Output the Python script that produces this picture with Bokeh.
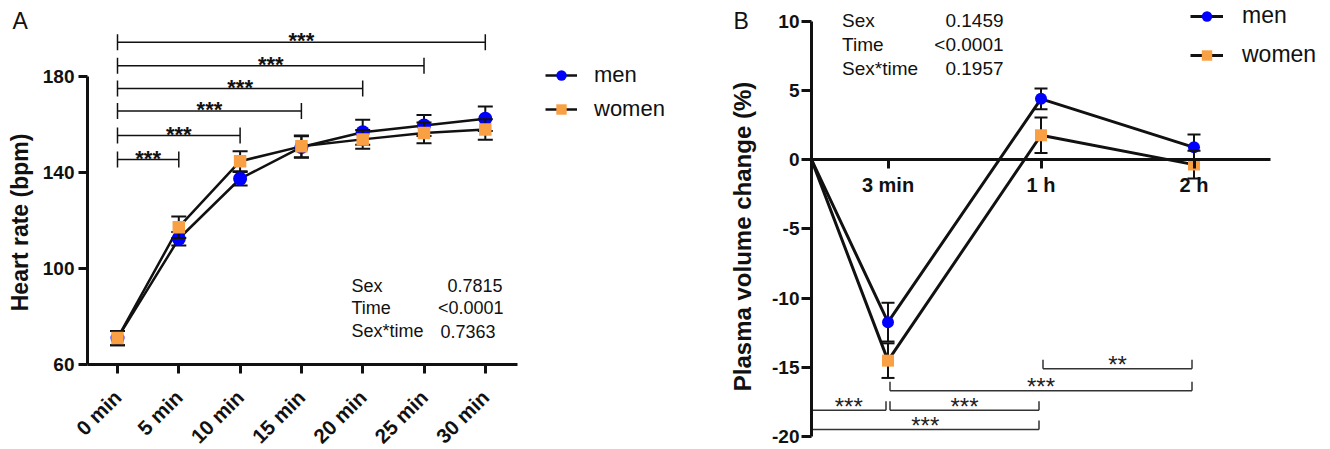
import math
from bokeh.plotting import figure
from bokeh.models import Range1d, FixedTicker, Legend, LegendItem, Label
from bokeh.layouts import row
from bokeh.embed import file_html
from bokeh.resources import INLINE
from bokeh.core.properties import value

# ---------------- data ----------------
# Panel A: heart rate
times_A = ["0 min", "5 min", "10 min", "15 min", "20 min", "25 min", "30 min"]
hr_men = [71.0, 112.4, 137.4, 150.6, 156.8, 159.6, 162.4]
hr_men_sem = [3.0, 2.8, 2.8, 4.5, 5.2, 4.4, 5.1]
hr_women = [71.0, 117.2, 144.7, 150.9, 153.8, 156.5, 157.9]
hr_women_sem = [3.0, 4.5, 4.2, 4.5, 3.9, 4.3, 4.3]
hr_ticks = [60, 100, 140, 180]
# significance brackets vs 0 min: end time index, level (bpm), label
brA_end = [1, 2, 3, 4, 5, 6]
brA_level = [145.4, 155.4, 165.6, 175.0, 184.5, 194.3]
brA_label = ["***", "***", "***", "***", "***", "***"]
statsA_name = ["Sex", "Time", "Sex*time"]
statsA_p = ["0.7815", "<0.0001", "0.7363"]

# Panel B: plasma volume change
times_B = ["3 min", "1 h", "2 h"]
pv_start = 0.0
pv_men = [-11.74, 4.39, 0.89]
pv_men_sem = [1.4, 0.75, 0.92]
pv_women = [-14.52, 1.76, -0.36]
pv_women_sem = [1.25, 1.28, 1.0]
pv_ticks = [-20, -15, -10, -5, 0, 5, 10]
# brackets: from point, to point (-1 = start), level, label
brB_from = [-1, 0, -1, 0, 1]
brB_to = [0, 1, 1, 2, 2]
brB_level = [-18.1, -18.1, -19.5, -16.7, -15.1]
brB_label = ["***", "***", "***", "***", "**"]
statsB_name = ["Sex", "Time", "Sex*time"]
statsB_p = ["0.1459", "<0.0001", "0.1957"]

FONT = "Liberation Sans"
BLUE = "#0000FF"
ORANGE = "#F8A043"
INK = "#111111"


def make_fig(w, h, xr, yr):
    p = figure(width=w, height=h, x_range=Range1d(*xr), y_range=Range1d(*yr),
               output_backend="svg", toolbar_location=None,
               min_border_left=0, min_border_right=0, min_border_top=0, min_border_bottom=0)
    p.outline_line_color = None
    p.xgrid.visible = False
    p.ygrid.visible = False
    p.background_fill_color = "white"
    p.border_fill_color = "white"
    for ax in (p.xaxis[0], p.yaxis[0]):
        ax.axis_line_width = 3
        ax.axis_line_color = INK
        ax.major_tick_line_width = 3
        ax.major_tick_line_color = INK
        ax.minor_tick_line_color = None
        ax.major_tick_in = 0
        ax.major_label_text_font = FONT
        ax.major_label_text_font_style = "bold"
        ax.major_label_text_color = INK
    return p


def errbars(p, xs, ys, sems, cap):
    lo = [y - s for y, s in zip(ys, sems)]
    hi = [y + s for y, s in zip(ys, sems)]
    p.segment(x0=xs, y0=lo, x1=xs, y1=hi, line_color=INK, line_width=2)
    p.scatter(x=xs + xs, y=lo + hi, marker="dash", size=cap, line_color=INK, line_width=2)


# ---------------- Panel A ----------------
pxA, pyA = 61.3, 2.4        # pixels per unit
WA, H = 700, 449
xA0 = -117 / pxA
yA1 = 180 + 76 / pyA
yA0 = 60 - (H - 364) / pyA
pA = make_fig(WA, H, (xA0, xA0 + WA / pxA), (yA0, yA1))
xA = list(range(len(times_A)))
ax_left = -30 / pxA
pA.xaxis.fixed_location = 60
pA.xaxis.ticker = FixedTicker(ticks=xA)
pA.xaxis.major_label_overrides = {i: t for i, t in zip(xA, times_A)}
pA.xaxis.major_label_orientation = math.pi / 4
pA.xaxis.major_label_text_font_size = "20.5px"
pA.xaxis.major_tick_out = 9
pA.xaxis.major_label_standoff = 20
pA.xaxis.bounds = (ax_left, 400 / pxA)
pA.yaxis.fixed_location = ax_left
pA.yaxis.ticker = FixedTicker(ticks=hr_ticks)
pA.yaxis.major_label_overrides = {t: str(t) for t in hr_ticks}
pA.yaxis.major_label_text_font_size = "19px"
pA.yaxis.major_tick_out = 9
pA.yaxis.major_label_standoff = 4
pA.yaxis.bounds = (60, 180)

lmA = pA.line(xA, hr_men, line_color=INK, line_width=2.5)
lwA = pA.line(xA, hr_women, line_color=INK, line_width=2.5)
errbars(pA, xA, hr_men, hr_men_sem, 15)
smA = pA.scatter(xA, hr_men, marker="circle", size=14, fill_color=BLUE, line_color=None)
errbars(pA, xA, hr_women, hr_women_sem, 15)
swA = pA.scatter(xA, hr_women, marker="square", size=12.5, fill_color=ORANGE, line_color=None)

# brackets A
tickA = 8 / pyA
n = len(brA_end)
pA.segment(x0=[0] * n, y0=brA_level, x1=brA_end, y1=brA_level, line_color=INK, line_width=1.5)
pA.segment(x0=[0] * n, y0=[l - tickA for l in brA_level], x1=[0] * n,
           y1=[l + tickA for l in brA_level], line_color=INK, line_width=1.5)
pA.segment(x0=brA_end, y0=[l - tickA for l in brA_level], x1=brA_end,
           y1=[l + tickA for l in brA_level], line_color=INK, line_width=1.5)
pA.text(x=[e / 2 for e in brA_end], y=[l + 0.6 for l in brA_level], text=brA_label,
        text_font=value(FONT), text_font_size="22px", text_font_style="bold",
        text_align="center", text_baseline="alphabetic", text_color=INK)

# stats A
for name, pv, yy, xr in zip(statsA_name, statsA_p, [92.9, 83.5, 73.9],
                            [(502 - 117) / pxA, (503 - 117) / pxA, (495 - 117) / pxA]):
    pA.add_layout(Label(x=(351 - 117) / pxA, y=yy, text=name, text_font=FONT, text_font_size="18px",
                        text_baseline="middle", text_color=INK))
    pA.add_layout(Label(x=xr, y=yy, text=pv, text_font=FONT, text_font_size="18px",
                        text_baseline="middle", text_align="right", text_color=INK))

pA.add_layout(Label(x=(12 - 117) / pxA, y=180 + 56 / pyA, text="A", text_font=FONT,
                    text_font_size="23px", text_baseline="middle", text_color=INK))
pA.add_layout(Label(x=(19 - 117) / pxA, y=119.2, text="Heart rate (bpm)", angle=math.pi / 2,
                    text_font=FONT, text_font_size="23px", text_font_style="bold",
                    text_align="center", text_baseline="middle", text_color=INK))

legA = Legend(items=[LegendItem(label="men", renderers=[lmA, smA]),
                     LegendItem(label="women", renderers=[lwA, swA])],
              location=(545, H - 122), padding=0, margin=0, spacing=8,
              glyph_width=32, glyph_height=26, label_height=26, label_standoff=17,
              label_text_font=FONT, label_text_font_size="22px", label_text_color=INK,
              border_line_color=None, background_fill_alpha=0)
pA.add_layout(legA)

# ---------------- Panel B ----------------
WB = 630
top10, bot20 = 20.7, 436.0
pxB, pyB = 153.0, (bot20 - top10) / 30.0
y0px = top10 + 10 * pyB
xB0 = -111 / pxB
yB1 = y0px / pyB
yB0 = -(H - y0px) / pyB
pB = make_fig(WB, H, (xB0, xB0 + WB / pxB), (yB0, yB1))
xB = [i + 0.5 for i in range(len(times_B))]
pB.xaxis.fixed_location = 0
pB.xaxis.ticker = FixedTicker(ticks=xB)
pB.xaxis.major_label_overrides = {x: t for x, t in zip(xB, times_B)}
pB.xaxis.major_label_text_font_size = "20px"
pB.xaxis.major_tick_out = 9
pB.xaxis.major_label_standoff = 5
pB.xaxis.bounds = (0, 3.0)
pB.yaxis.fixed_location = 0
pB.yaxis.ticker = FixedTicker(ticks=pv_ticks)
pB.yaxis.major_label_overrides = {t: str(t) for t in pv_ticks}
pB.yaxis.major_label_text_font_size = "19px"
pB.yaxis.major_tick_out = 10
pB.yaxis.major_label_standoff = 2
pB.yaxis.bounds = (-20, 10)

lmB = pB.line([0] + xB, [pv_start] + pv_men, line_color=INK, line_width=3)
lwB = pB.line([0] + xB, [pv_start] + pv_women, line_color=INK, line_width=3)
errbars(pB, xB, pv_men, pv_men_sem, 13)
smB = pB.scatter(xB, pv_men, marker="circle", size=12, fill_color=BLUE, line_color=None)
errbars(pB, xB, pv_women, pv_women_sem, 13)
swB = pB.scatter(xB, pv_women, marker="square", size=12, fill_color=ORANGE, line_color=None)

# brackets B
gap = 2 / pxB
tickB = 9 / pyB
bx0, bx1 = [], []
for f, t in zip(brB_from, brB_to):
    bx0.append(0 if f < 0 else xB[f] + gap)
    bx1.append(xB[t] - gap)
pB.segment(x0=bx0, y0=brB_level, x1=bx1, y1=brB_level, line_color="#333333", line_width=1.5)
pB.segment(x0=bx1, y0=brB_level, x1=bx1, y1=[l + tickB for l in brB_level],
           line_color="#333333", line_width=1.5)
lx = [a for a, f in zip(bx0, brB_from) if f >= 0]
ly = [l for l, f in zip(brB_level, brB_from) if f >= 0]
pB.segment(x0=lx, y0=ly, x1=lx, y1=[l + tickB for l in ly], line_color="#333333", line_width=1.5)
pB.text(x=[(a + b) / 2 for a, b in zip(bx0, bx1)], y=[l + 4 / pyB for l in brB_level], text=brB_label,
        text_font=value(FONT), text_font_size="24px", text_align="center",
        text_baseline="alphabetic", text_color="#222222")

for name, pv, ypx in zip(statsB_name, statsB_p, [20.0, 43.7, 68.0]):
    yy = (y0px - ypx) / pyB
    pB.add_layout(Label(x=0.2, y=yy, text=name, text_font=FONT, text_font_size="19px",
                        text_baseline="middle", text_color=INK))
    pB.add_layout(Label(x=1.255, y=yy, text=pv, text_font=FONT, text_font_size="19px",
                        text_baseline="middle", text_align="right", text_color=INK))

pB.add_layout(Label(x=(733 - 811) / pxB, y=(y0px - 20) / pyB, text="B", text_font=FONT,
                    text_font_size="23px", text_baseline="middle", text_color=INK))
pB.add_layout(Label(x=(742 - 811) / pxB, y=(y0px - 236) / pyB, text="Plasma volume change (%)",
                    angle=math.pi / 2, text_font=FONT, text_font_size="24px", text_font_style="bold",
                    text_align="center", text_baseline="middle", text_color=INK))

legB = Legend(items=[LegendItem(label="men", renderers=[lmB, smB]),
                     LegendItem(label="women", renderers=[lwB, swB])],
              location=(490, H - 68), padding=0, margin=0, spacing=12,
              glyph_width=33, glyph_height=26, label_height=26, label_standoff=19,
              label_text_font=FONT, label_text_font_size="23px", label_text_color=INK,
              border_line_color=None, background_fill_alpha=0)
pB.add_layout(legB)

layout = row(pA, pB)
open("out.html", "w").write(file_html(layout, INLINE))
